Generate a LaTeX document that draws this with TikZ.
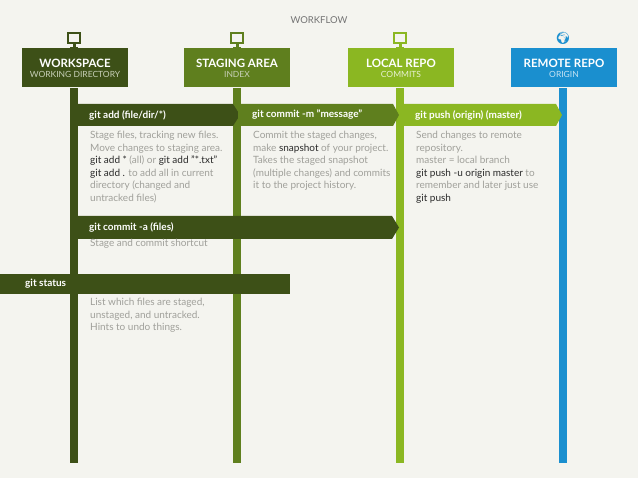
\documentclass[tikz,border=0pt]{standalone}
\usepackage{fontspec}
\setmainfont{Lato}
\newfontfamily\emoji{Noto Emoji}
\definecolor{bg}{HTML}{F4F4EF}
\definecolor{cws}{HTML}{3D5017}
\definecolor{cst}{HTML}{5F7F1E}
\definecolor{clr}{HTML}{8BB722}
\definecolor{crr}{HTML}{1A8FCF}
\definecolor{gtxt}{HTML}{A0A09A}
\definecolor{btxt}{HTML}{2A2A2A}
\definecolor{sub}{HTML}{C8D0B8}
\begin{document}
\begin{tikzpicture}[x=1pt,y=-1pt,
  head/.style={minimum width=106pt,minimum height=39pt,inner sep=0pt,align=center,text=white,font=\bfseries\fontsize{11.5}{12}\selectfont},
  arrowlbl/.style={anchor=west,text=white,font=\fontsize{10}{10}\selectfont\bfseries,inner sep=0pt},
  desc/.style={anchor=north west,align=left,text=gtxt,font=\fontsize{10}{12.6}\selectfont,inner sep=0pt},
  icon/.style={font=\emoji\fontsize{12}{12}\selectfont}]
\fill[bg] (0,0) rectangle (638,478);
\useasboundingbox (0,0) rectangle (638,478);
\node[text=gray!90!black,font=\fontsize{9.5}{10}\selectfont] (title) at (319,20) {WORKFLOW};
% bars
\fill[cws] (70,88) rectangle (78,463);
\fill[cst] (233,88) rectangle (241,463);
\fill[clr] (396,88) rectangle (404,463);
\fill[crr] (559,88) rectangle (567,463);
% headers
\node[head,fill=cws] (ws) at (75,68) {WORKSPACE\\[-2pt]{\mdseries\fontsize{8.5}{9}\selectfont\color{sub}WORKING DIRECTORY}};
\node[head,fill=cst] (st) at (237,68) {STAGING AREA\\[-2pt]{\mdseries\fontsize{8.5}{9}\selectfont\color{sub}INDEX}};
\node[head,fill=clr] (lr) at (401,68) {LOCAL REPO\\[-2pt]{\mdseries\fontsize{8.5}{9}\selectfont\color{white!80!clr}COMMITS}};
\node[head,fill=crr] (rr) at (564,68) {REMOTE REPO\\[-2pt]{\mdseries\fontsize{8.5}{9}\selectfont\color{white!75!crr}ORIGIN}};
% icons
\foreach \x/\c in {74/cws,237/cst,400/clr}{
  \draw[\c,line width=2.2pt] (\x-6,33) rectangle (\x+6,43);
  \fill[\c] (\x-1.5,44) rectangle (\x+1.5,47);
  \fill[\c] (\x-4,47) rectangle (\x+4,48.5);
}
\node[icon,text=crr] (globe) at (563,38) {🌍};
% arrows
\fill[cws] (75,104) -- (233,104) -- (240,115) -- (233,126) -- (75,126) -- cycle;
\fill[cst] (238,104) -- (393,104) -- (399,115) -- (393,126) -- (238,126) -- cycle;
\fill[clr] (401,104) -- (556,104) -- (562,115) -- (556,126) -- (401,126) -- cycle;
\fill[cws] (75,216) -- (392,216) -- (399,227.5) -- (392,239) -- (75,239) -- cycle;
\fill[cws] (0,274) rectangle (290,294);
\node[arrowlbl] (a1) at (89,115) {git add (file/dir/*)};
\node[arrowlbl] (a2) at (252,115) {git commit -m "message"};
\node[arrowlbl] (a3) at (415,115) {git push (origin) (master)};
\node[arrowlbl] (a4) at (89,227.5) {git commit -a (files)};
\node[arrowlbl] (a5) at (25,284) {git status};
% descriptions
\node[desc] (d1) at (90,131) {Stage files, tracking new  files.\\Move changes to staging area.\\{\color{btxt}git add *} (all) or {\color{btxt}git add "*.txt"}\\{\color{btxt}git add .} to add all in current\\directory (changed and\\untracked files)};
\node[desc] (d2) at (253,131) {Commit the staged changes,\\make {\color{btxt}snapshot} of your project.\\Takes the staged snapshot\\(multiple changes) and commits\\it to the project history.};
\node[desc] (d3) at (416,131) {Send changes to remote\\repository.\\master = local branch\\{\color{btxt}git push -u origin master} to\\remember and later just use\\{\color{btxt}git push}};
\node[desc] (d4) at (90,238.5) {Stage and commit shortcut};
\node[desc] (d5) at (90,298) {List which files are staged,\\unstaged, and untracked.\\Hints to undo things.};
\end{tikzpicture}
\end{document}
